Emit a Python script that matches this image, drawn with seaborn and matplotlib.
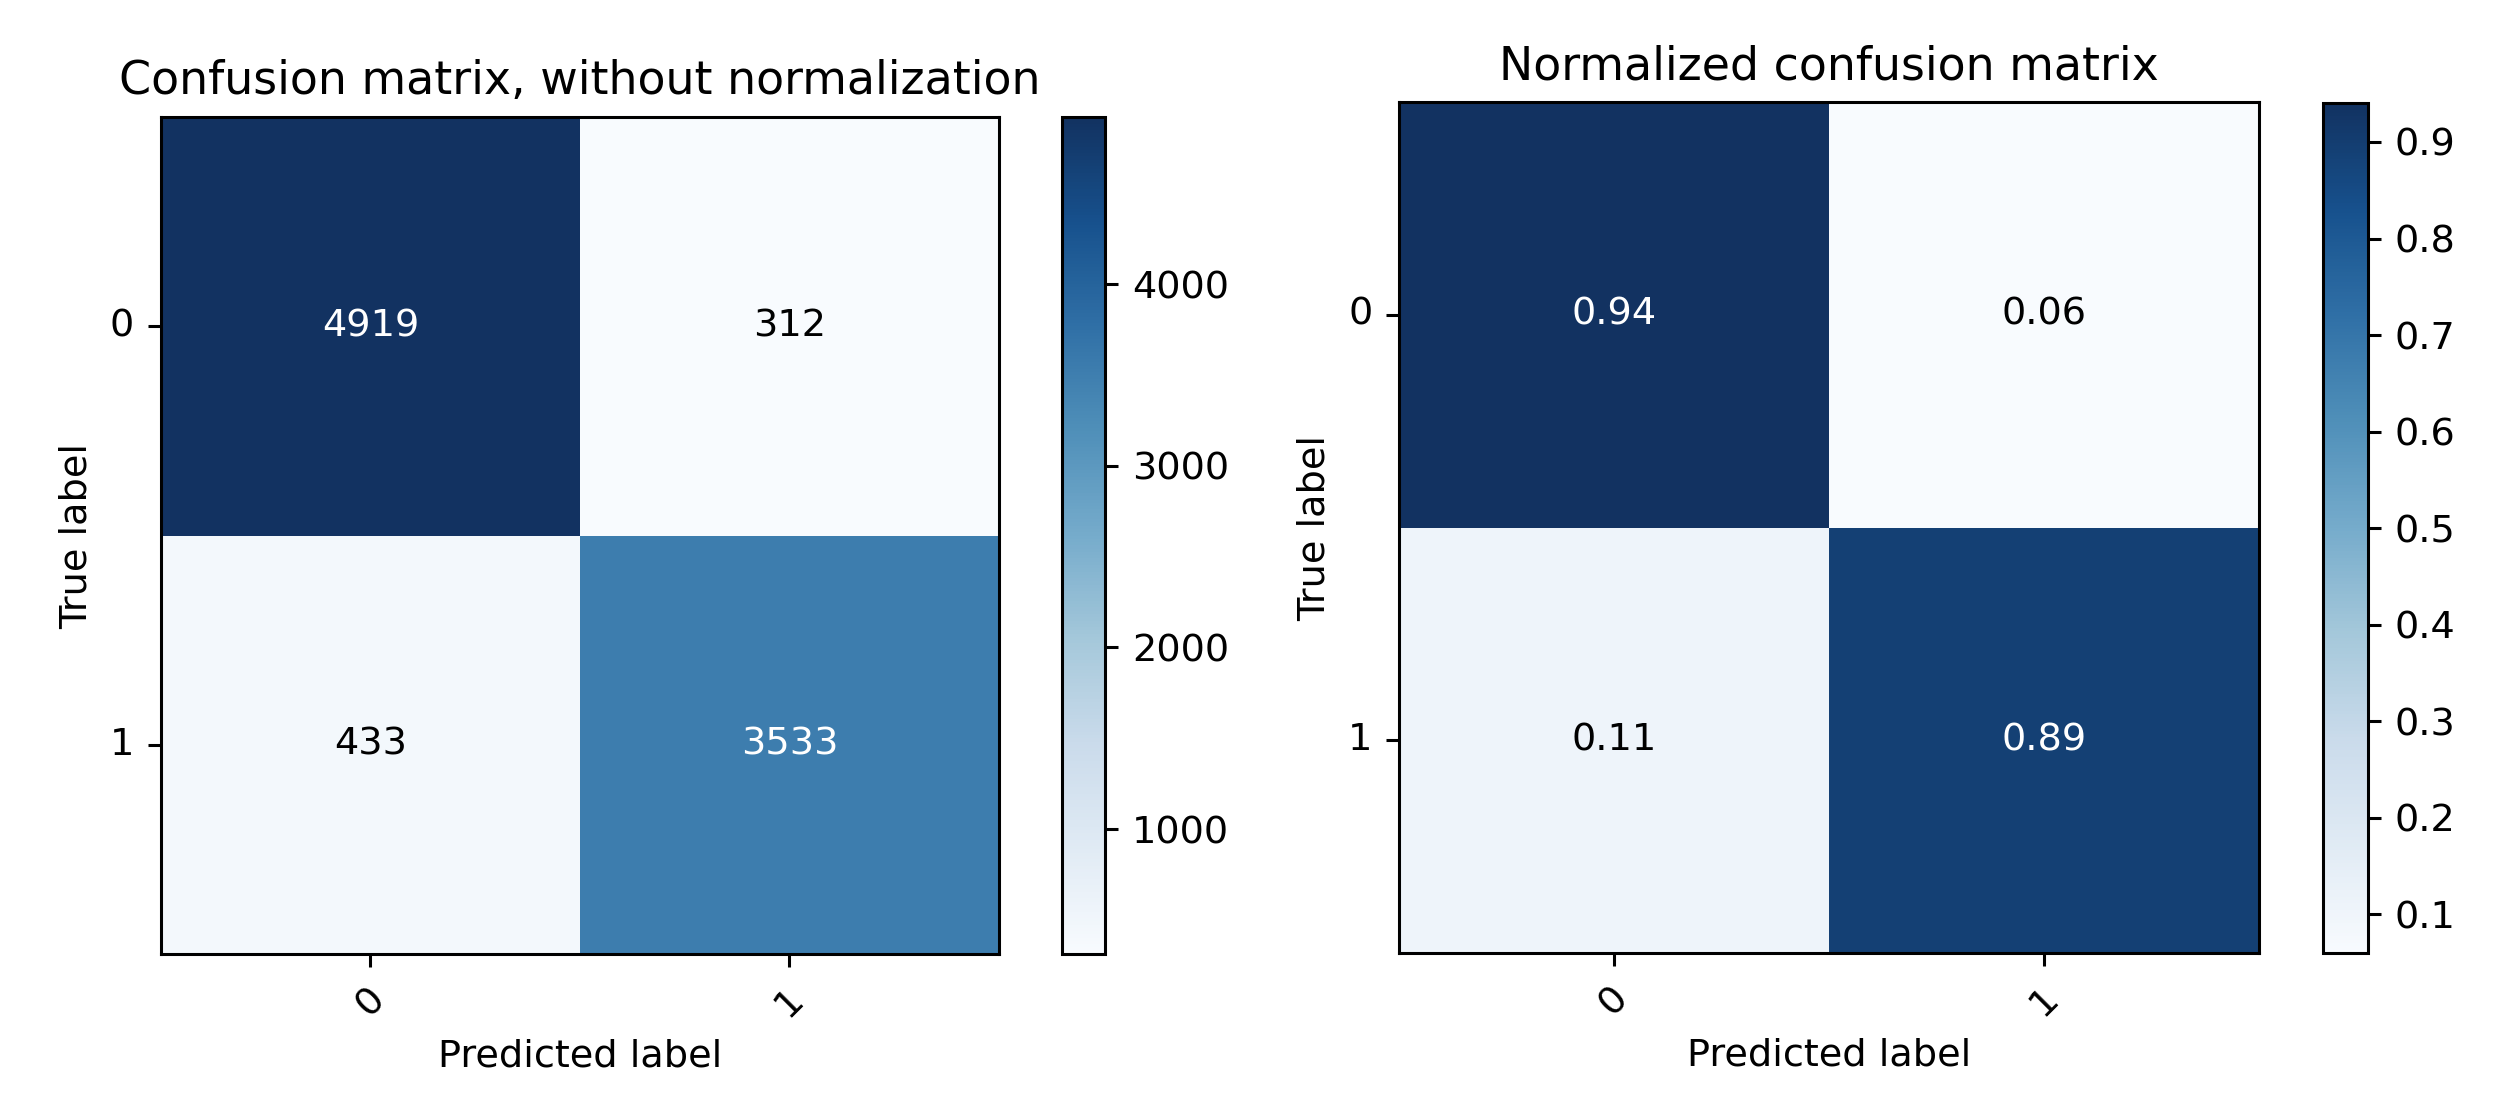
import numpy as np
import pandas as pd
import seaborn as sns
from matplotlib import pyplot as plt
from matplotlib.colors import ListedColormap

classes = ['0', '1']
counts_row0 = [4919, 312]
counts_row1 = [433, 3533]

cm = np.array([counts_row0, counts_row1])
cm_norm = cm / cm.sum(axis=1, keepdims=True)

# reference blues look a bit muted
blues = ListedColormap([sns.desaturate(c, 0.8) for c in sns.color_palette('Blues', 256)])

plt.rcParams['font.family'] = ['DejaVu Sans']
fig = plt.figure(figsize=(12.59, 5.57), dpi=200)

# axes placed by hand to follow the reference layout
ax1 = fig.add_axes([0.0639, 0.1436, 0.3328, 0.7513])
cax1 = fig.add_axes([0.4218, 0.1436, 0.0171, 0.7513])
ax2 = fig.add_axes([0.5556, 0.1445, 0.3415, 0.7639])
cax2 = fig.add_axes([0.9226, 0.1445, 0.0179, 0.7630])

fs = 13.75
k = 1.375  # scale of the original figure vs default sizes


def draw(ax, cax, mat, fmt, title):
    df = pd.DataFrame(mat, index=classes, columns=classes)
    sns.heatmap(df, ax=ax, cbar_ax=cax, cmap=blues, annot=True, fmt=fmt,
                annot_kws={'fontsize': fs}, linewidths=0)
    thresh = mat.max() / 2.
    for t, v in zip(ax.texts, mat.flatten()):
        t.set_color('white' if v > thresh else 'black')
    for s in ax.spines.values():
        s.set_visible(True)
        s.set_linewidth(0.8 * k)
    cb = ax.collections[0].colorbar
    cb.outline.set_visible(True)
    cb.outline.set_linewidth(0.8 * k)
    cb.ax.tick_params(labelsize=fs, length=3.5 * k, width=0.8 * k, pad=3.5 * k)
    ax.set_title(title, fontsize=16.5, pad=6 * k)
    ax.set_ylabel('True label', fontsize=fs, labelpad=4 * k)
    ax.set_xlabel('Predicted label', fontsize=fs, labelpad=4 * k)
    ax.tick_params(labelsize=fs, length=3.5 * k, width=0.8 * k, pad=3.5 * k)
    plt.setp(ax.get_xticklabels(), rotation=45)
    plt.setp(ax.get_yticklabels(), rotation=0)


draw(ax1, cax1, cm, 'd', 'Confusion matrix, without normalization')
draw(ax2, cax2, cm_norm, '.2f', 'Normalized confusion matrix')

fig.savefig('out.png')
